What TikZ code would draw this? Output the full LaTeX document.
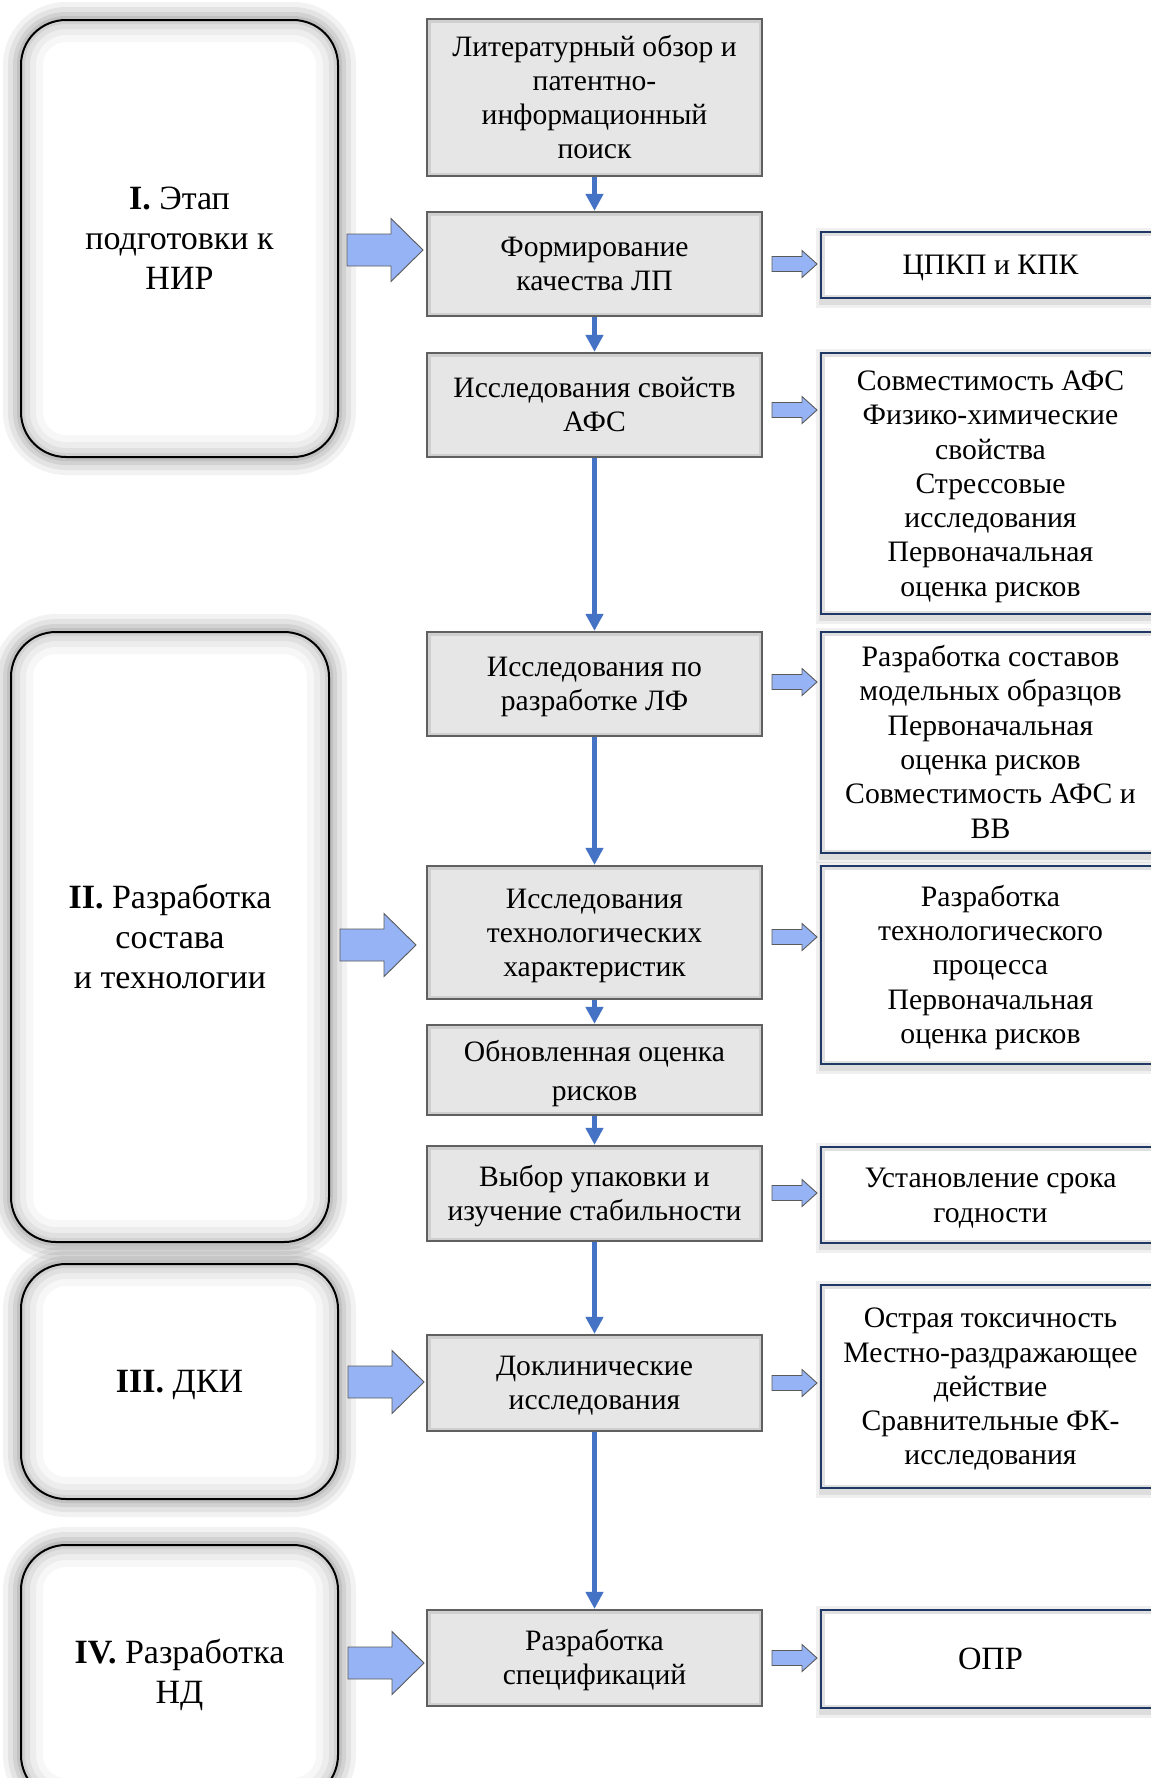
\documentclass[tikz,border=0pt]{standalone}
\usepackage{fontspec}
\setmainfont{Liberation Serif}
\usetikzlibrary{arrows.meta}
\definecolor{vline}{HTML}{4472C4}
\definecolor{afill}{RGB}{150,180,245}
\definecolor{aline}{HTML}{5A5A5A}
\definecolor{cborder}{HTML}{606060}
\definecolor{cfill}{HTML}{E6E6E6}
\definecolor{cbevel}{HTML}{CFCFCF}
\definecolor{rborder}{HTML}{1F3864}
\newcommand\Tx[1]{\raisebox{-3pt}[\height][\depth]{\begin{tabular}{@{}c@{}}#1\end{tabular}}}
\begin{document}
\begin{tikzpicture}[x=1pt,y=-1pt,
  cbox/.style={draw=cborder, line width=2.2pt, fill=cfill, minimum width=335pt,
    inner sep=0pt, font=\fontsize{29.6}{34}\selectfont,
    path picture={\draw[cbevel, line width=7pt] (path picture bounding box.south west) rectangle (path picture bounding box.north east);}},
  rbox/.style={draw=rborder, line width=2.4pt, fill=white, minimum width=339pt,
    inner sep=0pt, font=\fontsize{29.7}{34.3}\selectfont,
    preaction={draw=black, draw opacity=0.06, line width=14pt, transform canvas={xshift=2pt, yshift=-3pt}},
    preaction={draw=black, draw opacity=0.08, line width=8pt, transform canvas={xshift=2pt, yshift=-3pt}},
    path picture={\draw[black!12, line width=7pt] (path picture bounding box.south west) rectangle (path picture bounding box.north east);}},
  lbox/.style={draw=black, line width=2pt, fill=white, rounded corners=45pt,
    minimum width=317pt, inner sep=0pt, font=\fontsize{34}{40}\selectfont,
    preaction={draw=black, draw opacity=0.05, line width=36pt},
    preaction={draw=black, draw opacity=0.06, line width=26pt},
    preaction={draw=black, draw opacity=0.07, line width=16pt},
    preaction={draw=black, draw opacity=0.08, line width=8pt},
    path picture={
      \draw[black, draw opacity=0.03, line width=44pt, rounded corners=45pt] (path picture bounding box.south west) rectangle (path picture bounding box.north east);
      \draw[black, draw opacity=0.04, line width=30pt, rounded corners=45pt] (path picture bounding box.south west) rectangle (path picture bounding box.north east);
      \draw[black, draw opacity=0.05, line width=18pt, rounded corners=45pt] (path picture bounding box.south west) rectangle (path picture bounding box.north east);
      \draw[black, draw opacity=0.06, line width=8pt, rounded corners=45pt] (path picture bounding box.south west) rectangle (path picture bounding box.north east);}},
  vconn/.style={draw=vline, line width=4.5pt, -{Triangle[width=17pt,length=17pt]}},
  bigarr/.pic={\draw[aline, line width=0.9pt, fill=afill] (0,-16) -- (44,-16) -- (44,-31.5) -- (76,0) -- (44,31.5) -- (44,16) -- (0,16) -- cycle;},
  smallarr/.pic={\draw[aline, line width=0.9pt, fill=afill] (0,-7.5) -- (30,-7.5) -- (30,-13.5) -- (45,0) -- (30,13.5) -- (30,7.5) -- (0,7.5) -- cycle;}
]
\useasboundingbox[fill=white] (0,0) rectangle (1151,1778);

% left stage boxes
\node[lbox, minimum height=437pt] (L1) at (179.5,238.5) {\Tx{\textbf{I.} Этап\\подготовки к\\НИР}};
\node[lbox, minimum width=318pt, minimum height=610pt] (L2) at (170,937) {\Tx{\textbf{II.} Разработка\\состава\\и технологии}};
\node[lbox, minimum height=235pt] (L3) at (179.5,1381.5) {\Tx{\textbf{III.} ДКИ}};
\node[lbox, minimum height=255pt] (L4) at (179.5,1672.5) {\Tx{\textbf{IV.} Разработка\\НД}};

% central boxes
\node[cbox, minimum height=157pt] (c1) at (594.5,97.5) {\Tx{Литературный обзор и\\патентно-\\информационный\\поиск}};
\node[cbox, minimum height=104pt] (c2) at (594.5,264) {\Tx{Формирование\\качества ЛП}};
\node[cbox, minimum height=104pt] (c3) at (594.5,405) {\Tx{Исследования свойств\\АФС}};
\node[cbox, minimum height=104pt] (c4) at (594.5,684) {\Tx{Исследования по\\разработке ЛФ}};
\node[cbox, minimum height=133pt] (c5) at (594.5,932.5) {\Tx{Исследования\\технологических\\характеристик}};
\node[cbox, minimum height=90pt, font=\fontsize{29.6}{39}\selectfont] (c6) at (594.5,1070) {\Tx{Обновленная оценка\\рисков}};
\node[cbox, minimum height=95pt] (c7) at (594.5,1193.5) {\Tx{Выбор упаковки и\\изучение стабильности}};
\node[cbox, minimum height=96pt] (c8) at (594.5,1383) {\Tx{Доклинические\\исследования}};
\node[cbox, minimum height=96pt] (c9) at (594.5,1658) {\Tx{Разработка\\спецификаций}};

% right boxes
\node[rbox, minimum height=66pt] (r1) at (990.5,265) {\Tx{ЦПКП и КПК}};
\node[rbox, minimum height=261pt] (r2) at (990.5,483.5) {\Tx{Совместимость АФС\\Физико-химические\\свойства\\Стрессовые\\исследования\\Первоначальная\\оценка рисков}};
\node[rbox, minimum height=221pt] (r3) at (990.5,742.5) {\Tx{Разработка составов\\модельных образцов\\Первоначальная\\оценка рисков\\Совместимость АФС и\\ВВ}};
\node[rbox, minimum height=198pt] (r4) at (990.5,965) {\Tx{Разработка\\технологического\\процесса\\Первоначальная\\оценка рисков}};
\node[rbox, minimum height=96pt] (r5) at (990.5,1195) {\Tx{Установление срока\\годности}};
\node[rbox, minimum height=203pt] (r6) at (990.5,1386.5) {\Tx{Острая токсичность\\Местно-раздражающее\\действие\\Сравнительные ФК-\\исследования}};
\node[rbox, minimum height=98pt, font=\fontsize{32.5}{36}\selectfont] (r7) at (990.5,1659) {\Tx{ОПР}};

% vertical connectors
\draw[vconn] (c1) -- (c2);
\draw[vconn] (c2) -- (c3);
\draw[vconn] (c3) -- (c4);
\draw[vconn] (c4) -- (c5);
\draw[vconn] (c5) -- (c6);
\draw[vconn] (c6) -- (c7);
\draw[vconn] (c7) -- (c8);
\draw[vconn] (c8) -- (c9);

% big block arrows
\pic at (347,250) {bigarr};
\pic at (340,945) {bigarr};
\pic at (348,1382) {bigarr};
\pic at (348,1663) {bigarr};

% small block arrows
\pic at (772,264) {smallarr};
\pic at (772,410) {smallarr};
\pic at (772,682) {smallarr};
\pic at (772,937) {smallarr};
\pic at (772,1193) {smallarr};
\pic at (772,1383) {smallarr};
\pic at (772,1658) {smallarr};
\end{tikzpicture}
\end{document}
